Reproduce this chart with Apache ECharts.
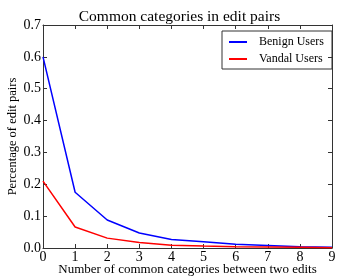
<!DOCTYPE html>
<html><head><meta charset="utf-8">
<script src="https://cdn.jsdelivr.net/npm/echarts@6/dist/echarts.min.js"></script>
<style>html,body{margin:0;padding:0;background:#fff}#c{width:359px;height:276px}</style>
</head><body><div id="c"></div>
<script>
const xValues = [0,1,2,3,4,5,6,7,8,9];
const benign = [0.600,0.175,0.088,0.047,0.027,0.020,0.012,0.008,0.004,0.002];
const vandal = [0.210,0.066,0.031,0.017,0.009,0.006,0.004,0.003,0.002,0.001];
const F = 'Liberation Serif';
const chart = echarts.init(document.getElementById('c'));
const axCommon = {
  axisLine:{show:true,onZero:false,lineStyle:{color:'#333',width:1}},
  axisTick:{show:true,inside:true,length:4,lineStyle:{color:'#333'}},
  splitLine:{show:false}
};
chart.setOption({
  animation:false,
  title:{text:'Common categories in edit pairs',left:'center',top:4,textStyle:{fontFamily:F,fontSize:15.5,fontWeight:'normal',color:'#000'}},
  grid:{left:43,right:27,top:25,bottom:28,show:false,outerBoundsMode:'none',containLabel:false},
  legend:{orient:'vertical',left:222,top:31,data:['Benign Users','Vandal Users'],icon:'rect',itemWidth:18,itemHeight:2,itemGap:5,
    borderColor:'#333',borderWidth:1,borderRadius:0,padding:[5,8,4,7],
    textStyle:{fontFamily:F,fontSize:12,color:'#000',padding:[0,0,0,7]}},
  xAxis:[
    Object.assign({type:'value',min:0,max:9,interval:1,position:'bottom',
      name:'Number of common categories between two edits',nameLocation:'middle',nameGap:15,nameMoveOverlap:false,
      nameTextStyle:{fontFamily:F,fontSize:13,color:'#000'},
      axisLabel:{fontFamily:F,fontSize:14,color:'#000',margin:2}},axCommon),
    Object.assign({type:'value',min:0,max:9,interval:1,position:'top',axisLabel:{show:false}},axCommon)
  ],
  yAxis:[
    Object.assign({type:'value',min:0,max:0.7,interval:0.1,position:'left',
      name:'Percentage of edit pairs',nameLocation:'middle',nameGap:24,nameMoveOverlap:false,
      nameTextStyle:{fontFamily:F,fontSize:12.5,color:'#000'},
      axisLabel:{fontFamily:F,fontSize:14,color:'#000',margin:2,formatter:v=>v.toFixed(1)}},axCommon),
    Object.assign({type:'value',min:0,max:0.7,interval:0.1,position:'right',axisLabel:{show:false}},axCommon)
  ],
  series:[
    {name:'Benign Users',type:'line',data:xValues.map((x,i)=>[x,benign[i]]),showSymbol:false,symbol:'none',color:'#0000ff',lineStyle:{width:1.5,color:'#0000ff'}},
    {name:'Vandal Users',type:'line',data:xValues.map((x,i)=>[x,vandal[i]]),showSymbol:false,symbol:'none',color:'#ff0000',lineStyle:{width:1.5,color:'#ff0000'}}
  ]
});
</script></body></html>
